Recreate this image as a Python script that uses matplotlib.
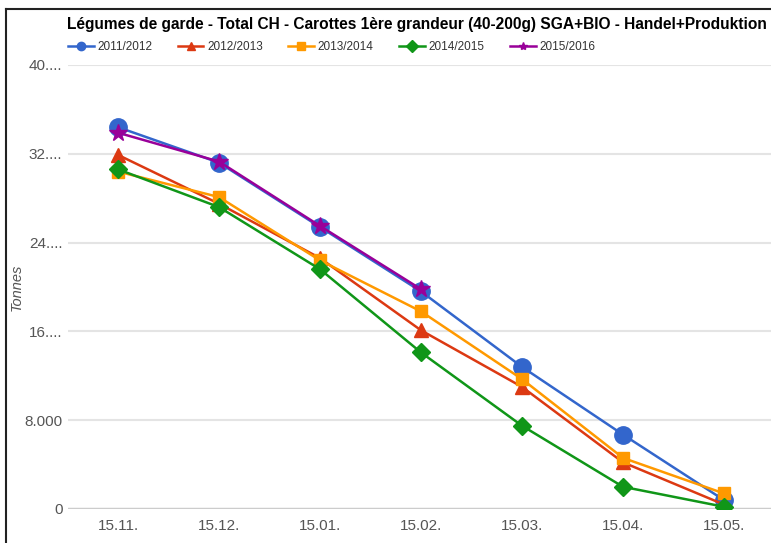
import matplotlib
matplotlib.use("Agg")
import matplotlib.pyplot as plt
from matplotlib.lines import Line2D

plt.rcParams['font.family'] = ['Liberation Sans', 'DejaVu Sans']

months = ["15.11.", "15.12.", "15.01.", "15.02.", "15.03.", "15.04.", "15.05."]
s2011 = [34.4, 31.2, 25.4, 19.6, 12.8, 6.7, 0.8]
s2012 = [31.9, 27.5, 22.6, 16.1, 11.0, 4.2, 0.4]
s2013 = [30.4, 28.1, 22.4, 17.8, 11.7, 4.6, 1.4]
s2014 = [30.6, 27.2, 21.6, 14.1, 7.5, 2.0, 0.2]
s2015 = [33.9, 31.3, 25.5, 19.8]
series_names = ["2011/2012", "2012/2013", "2013/2014", "2014/2015", "2015/2016"]
ytick_vals = [0, 8, 16, 24, 32, 40]
ytick_labels = ["0", "8.000", "16....", "24....", "32....", "40...."]
title = "Légumes de garde - Total CH - Carottes 1ère grandeur (40-200g) SGA+BIO - Handel+Produktion"
ylabel = "Tonnes"

W, H = 771, 543
fig = plt.figure(figsize=(W/100, H/100), dpi=100)
ax = fig.add_axes([68/W, (H-509)/H, 1-68/W, (509-65)/H])

styles = [
    dict(color="#3366cc", marker="o", ms=12.5),
    dict(color="#dc3912", marker="^", ms=10),
    dict(color="#ff9900", marker="s", ms=9),
    dict(color="#109618", marker="D", ms=9),
    dict(color="#990099", marker="*", ms=13),
]
data = [s2011, s2012, s2013, s2014, s2015]
handles = []
for name, vals, st in zip(series_names, data, styles):
    x = list(range(len(vals)))
    ax.plot(x, vals, color=st["color"], lw=1.8, marker=st["marker"],
            ms=st["ms"], mec=st["color"], mfc=st["color"], zorder=3)
    handles.append(Line2D([], [], color=st["color"], lw=1.8,
                          marker=st["marker"], ms=6, mec=st["color"],
                          mfc=st["color"], label=name))

ax.set_xlim(-0.495, 6.465)
ax.set_ylim(0, 40)
ax.set_xticks(range(len(months)))
ax.set_xticklabels(months)
ax.set_yticks(ytick_vals)
ax.set_yticklabels(ytick_labels)
ax.tick_params(axis='both', length=0, colors="#555555", labelsize=11)
ax.tick_params(axis='x', pad=7)
ax.tick_params(axis='y', pad=4)
for v in ytick_vals[1:]:
    ax.axhline(v, color="#e4e4e4", lw=1.5, zorder=1)
ax.axhline(0, color="#cccccc", lw=2.5, zorder=2)
for sp in ax.spines.values():
    sp.set_visible(False)
ax.set_ylabel(ylabel, style="italic", color="#555555", fontsize=10.5)
ax.yaxis.set_label_coords(-44/703, 0.5)
ax.patch.set_alpha(0)

fig.text(67/W, 1-24/H, title, fontsize=11.2, fontweight="bold",
         color="#000000", va="center", ha="left")
fig.legend(handles=handles, loc="center left", bbox_to_anchor=(57/W, 1-47/H),
           ncol=5, frameon=False, fontsize=8.5, handlelength=2.2,
           handletextpad=0.3, columnspacing=2.15, labelcolor="#333333")

fig.add_artist(Line2D([6/W, 1], [1-9/H, 1-9/H], color="#222222", lw=1.5,
                      transform=fig.transFigure))
fig.add_artist(Line2D([6/W, 6/W], [0, 1-9/H], color="#222222", lw=1.5,
                      transform=fig.transFigure))

fig.savefig("out.png", dpi=100)
